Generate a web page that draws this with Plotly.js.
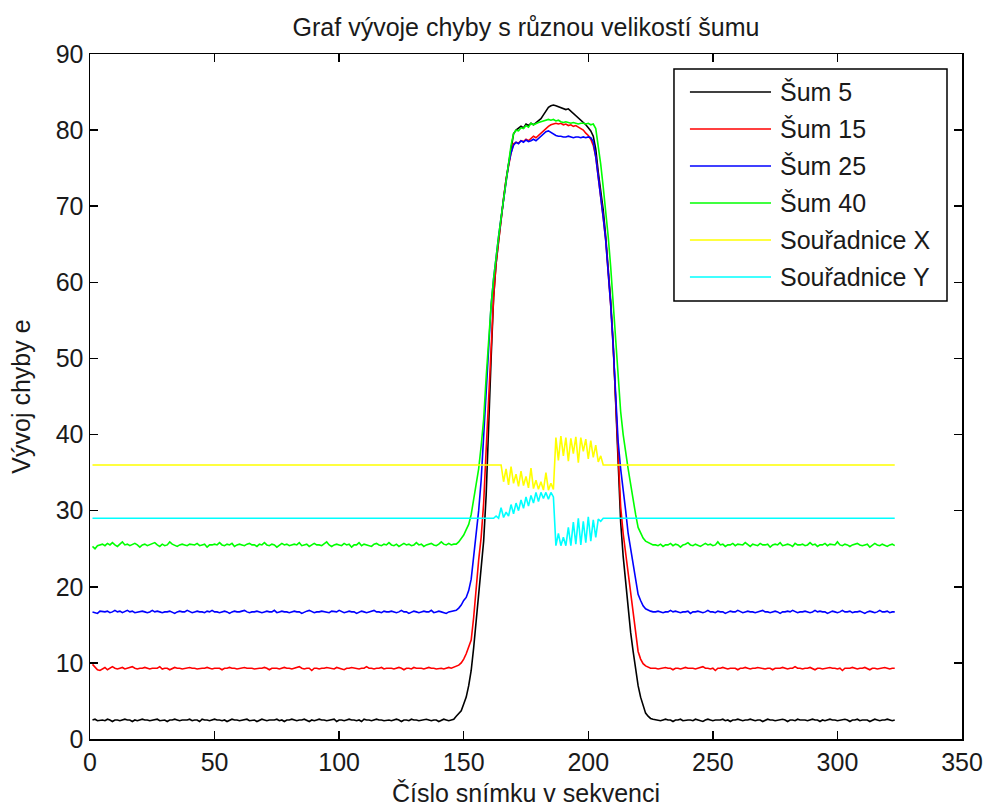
<!DOCTYPE html>
<html><head><meta charset="utf-8">
<script src="https://cdn.plot.ly/plotly-3.0.1.min.js"></script>
<style>html,body{margin:0;padding:0;background:#fff}#chart{width:983px;height:807px}</style>
</head><body><div id="chart"></div>
<script>
// ---------- data ----------
const seriesNames = ["Šum 5", "Šum 15", "Šum 25", "Šum 40", "Souřadnice X", "Souřadnice Y"];
const seriesColors = ["#000000", "#ff0000", "#0000ff", "#00ff00", "#ffff00", "#00ffff"];
const xTickVals = [0, 50, 100, 150, 200, 250, 300, 350];
const yTickVals = [0, 10, 20, 30, 40, 50, 60, 70, 80, 90];
const chartTitle = "Graf vývoje chyby s různou velikostí šumu";
const xLabel = "Číslo snímku v sekvenci";
const yLabel = "Vývoj chyby e";

// Šum 5 : frames 1-145, 146-226, 227-323
const sum5Left = [
2.5,2.6,2.4,2.5,2.5,2.4,2.6,2.5,2.3,2.5,2.5,2.4,2.5,2.6,2.5,2.5,2.3,2.5,2.4,2.5,
2.6,2.5,2.5,2.4,2.5,2.5,2.6,2.4,2.5,2.5,2.3,2.5,2.5,2.6,2.5,2.4,2.5,2.5,2.5,2.6,
2.4,2.5,2.5,2.3,2.6,2.5,2.5,2.4,2.5,2.6,2.5,2.5,2.4,2.5,2.3,2.5,2.6,2.5,2.5,2.4,
2.5,2.5,2.6,2.4,2.5,2.5,2.3,2.5,2.6,2.5,2.4,2.5,2.5,2.5,2.6,2.4,2.5,2.3,2.5,2.5,
2.6,2.5,2.4,2.5,2.5,2.6,2.5,2.3,2.5,2.4,2.5,2.6,2.5,2.5,2.4,2.5,2.5,2.6,2.3,2.5,
2.5,2.4,2.5,2.6,2.5,2.5,2.4,2.5,2.3,2.6,2.5,2.5,2.4,2.5,2.6,2.5,2.5,2.4,2.5,2.5,
2.4,2.5,2.6,2.5,2.3,2.5,2.5,2.4,2.6,2.5,2.5,2.4,2.5,2.5,2.6,2.5,2.4,2.5,2.5,2.3,
2.5,2.6,2.5,2.4,2.5];
const sum5Peak = [
2.6,3.0,3.3,3.7,4.6,5.5,7.0,9.0,12.0,15.5,
19.5,22.5,26.0,32.0,42.0,50.0,58.0,62.5,65.5,68.5,
71.0,73.5,75.5,77.5,79.5,80.0,80.2,80.5,80.3,80.8,
80.6,80.9,80.7,81.0,81.2,81.5,82.0,82.6,83.0,83.2,
83.3,83.2,83.1,83.0,82.9,82.7,82.8,82.5,82.3,82.0,
81.7,81.4,81.0,80.7,80.3,79.9,79.2,77.5,74.5,72.0,
69.5,66.0,62.0,57.5,52.0,44.0,35.0,28.5,24.0,20.5,
17.0,14.0,11.5,9.0,7.0,5.5,4.3,3.4,3.0,2.7,
2.6];
const sum5Right = [
2.5,2.5,2.4,2.5,2.6,2.5,2.5,2.3,2.5,2.5,2.6,2.4,2.5,2.5,2.5,2.4,2.6,2.5,2.5,2.3,
2.5,2.6,2.5,2.4,2.5,2.5,2.5,2.6,2.4,2.5,2.3,2.5,2.5,2.6,2.5,2.4,2.5,2.5,2.6,2.5,
2.4,2.5,2.5,2.3,2.5,2.6,2.5,2.5,2.4,2.5,2.5,2.6,2.5,2.3,2.5,2.5,2.4,2.6,2.5,2.5,
2.5,2.4,2.5,2.6,2.5,2.5,2.3,2.5,2.4,2.5,2.6,2.5,2.5,2.4,2.5,2.5,2.6,2.5,2.3,2.5,
2.5,2.6,2.4,2.5,2.5,2.5,2.3,2.5,2.6,2.5,2.4,2.5,2.5,2.6,2.5,2.4,2.5];

// Šum 15
const sum15Left = [
9.8,9.5,9.1,9.0,9.2,9.4,9.1,9.3,9.5,9.3,9.2,9.3,9.4,9.2,9.3,9.3,9.5,9.3,9.2,9.3,
9.3,9.4,9.3,9.2,9.3,9.3,9.3,9.5,9.2,9.3,9.3,9.1,9.3,9.4,9.3,9.3,9.2,9.3,9.3,9.4,
9.3,9.3,9.2,9.3,9.3,9.3,9.4,9.3,9.2,9.3,9.3,9.3,9.1,9.3,9.3,9.4,9.3,9.3,9.2,9.3,
9.3,9.4,9.3,9.3,9.3,9.2,9.3,9.3,9.3,9.4,9.3,9.1,9.3,9.3,9.3,9.2,9.3,9.4,9.3,9.3,
9.2,9.3,9.3,9.5,9.3,9.2,9.3,9.3,9.0,9.3,9.3,9.2,9.3,9.3,9.4,9.3,9.3,9.2,9.4,9.3,
9.3,9.1,9.3,9.3,9.4,9.3,9.3,9.2,9.3,9.3,9.5,9.3,9.3,9.2,9.3,9.3,9.4,9.2,9.3,9.3,
9.3,9.2,9.3,9.4,9.3,9.1,9.3,9.3,9.2,9.4,9.3,9.3,9.3,9.2,9.3,9.4,9.3,9.3,9.2,9.3,
9.3,9.2,9.3,9.4,9.3];
const sum15Peak = [
9.4,9.5,9.7,10.0,10.5,11.2,12.0,13.0,16.0,20.0,
23.5,26.5,31.0,38.0,45.0,52.0,58.0,62.5,65.5,68.5,
71.0,73.5,75.5,77.0,78.2,78.4,78.3,78.6,78.5,78.8,
78.6,78.9,79.2,79.0,79.3,79.6,80.0,80.3,80.5,80.7,
80.8,80.9,80.8,80.9,80.7,80.8,80.6,80.7,80.5,80.6,
80.4,80.2,80.0,79.6,79.3,78.8,78.0,76.5,74.0,71.5,
68.5,65.5,61.5,57.0,51.5,44.0,37.0,30.5,27.0,24.5,
22.0,19.5,16.5,13.8,11.5,10.5,9.9,9.6,9.4,9.3,
9.3];
const sum15Right = [
9.3,9.2,9.3,9.3,9.4,9.3,9.3,9.1,9.3,9.3,9.2,9.3,9.4,9.3,9.3,9.3,9.2,9.3,9.3,9.5,
9.3,9.3,9.2,9.3,9.0,9.3,9.3,9.4,9.3,9.2,9.3,9.3,9.3,9.1,9.3,9.3,9.4,9.3,9.2,9.3,
9.3,9.4,9.3,9.3,9.2,9.3,9.3,9.1,9.3,9.3,9.3,9.4,9.3,9.2,9.3,9.3,9.5,9.3,9.3,9.2,
9.3,9.3,9.4,9.3,9.1,9.3,9.3,9.2,9.3,9.3,9.4,9.3,9.3,9.2,9.3,9.0,9.3,9.3,9.3,9.4,
9.3,9.2,9.3,9.3,9.4,9.3,9.1,9.3,9.3,9.2,9.3,9.3,9.4,9.3,9.2,9.3,9.3];

// Šum 25
const sum25Left = [
16.7,16.6,16.5,16.8,16.7,16.7,16.8,16.6,16.7,16.9,16.7,16.8,16.6,16.7,16.9,16.7,16.8,16.6,16.7,16.7,
16.8,16.7,16.6,16.7,16.9,16.7,16.8,16.7,16.6,16.7,16.7,16.8,16.7,16.5,16.7,16.8,16.7,16.7,16.9,16.7,
16.6,16.7,16.8,16.7,16.7,16.6,16.8,16.7,16.9,16.7,16.7,16.6,16.7,16.8,16.7,16.5,16.7,16.8,16.7,16.7,
16.8,16.9,16.7,16.6,16.7,16.7,16.8,16.7,16.6,16.7,16.8,16.7,16.7,16.9,16.6,16.7,16.8,16.7,16.7,16.6,
16.7,16.8,16.7,16.7,16.5,16.7,16.8,16.9,16.7,16.6,16.7,16.7,16.8,16.7,16.7,16.6,16.8,16.7,16.7,16.9,
16.7,16.6,16.7,16.8,16.7,16.7,16.5,16.7,16.8,16.7,16.6,16.7,16.8,16.9,16.7,16.7,16.6,16.8,16.7,16.7,
16.8,16.7,16.6,16.7,16.9,16.7,16.7,16.5,16.7,16.8,16.7,16.6,16.7,16.8,16.7,16.7,16.9,16.6,16.7,16.8,
16.7,16.6,16.5,16.7,16.8];
const sum25Peak = [
16.8,16.9,17.2,17.6,18.2,18.6,19.5,21.0,24.0,27.0,
30.0,34.0,40.0,46.0,52.0,57.0,60.5,63.5,66.0,68.5,
71.0,73.5,75.5,77.0,78.0,78.4,78.2,78.6,78.4,78.7,
78.5,78.6,78.8,78.6,78.9,79.2,79.6,79.8,79.9,79.7,
79.4,79.3,79.2,79.2,79.1,79.1,79.2,79.1,79.0,79.1,
79.1,79.0,79.1,79.0,79.1,79.0,78.5,76.5,74.0,71.5,
68.5,65.5,61.5,57.0,51.5,45.0,39.0,35.5,33.0,30.0,
27.0,25.0,22.5,20.5,19.0,18.2,17.5,17.1,16.9,16.8,
16.7];
const sum25Right = [
16.7,16.8,16.7,16.6,16.7,16.7,16.9,16.7,16.8,16.7,16.6,16.7,16.7,16.8,16.5,16.7,16.7,16.8,16.7,16.6,
16.7,16.9,16.7,16.7,16.6,16.8,16.7,16.7,16.5,16.7,16.8,16.7,16.7,16.9,16.7,16.6,16.7,16.8,16.7,16.7,
16.6,16.7,16.8,16.9,16.7,16.7,16.6,16.7,16.8,16.7,16.5,16.7,16.7,16.8,16.7,16.9,16.7,16.6,16.7,16.7,
16.8,16.7,16.6,16.7,16.9,16.7,16.8,16.7,16.7,16.5,16.7,16.8,16.7,16.6,16.7,16.9,16.7,16.7,16.8,16.6,
16.7,16.7,16.8,16.7,16.5,16.7,16.8,16.7,16.6,16.7,16.9,16.7,16.7,16.8,16.6,16.7,16.7];

// Šum 40
const sum40Left = [
25.3,25.0,25.4,25.5,25.6,25.4,25.7,25.5,25.8,25.5,25.3,25.6,25.9,25.5,25.6,25.4,25.5,25.7,25.5,25.2,
25.5,25.6,25.4,25.5,25.7,25.8,25.5,25.3,25.6,25.4,25.5,25.9,25.6,25.5,25.3,25.5,25.6,25.5,25.4,25.6,
25.5,25.5,25.7,25.4,25.5,25.6,25.2,25.5,25.5,25.6,25.5,25.8,25.5,25.4,25.6,25.5,25.7,25.3,25.5,25.6,
25.5,25.4,25.6,25.7,25.5,25.5,25.3,25.6,25.5,25.8,25.5,25.4,25.6,25.5,25.2,25.5,25.7,25.5,25.6,25.4,
25.5,25.6,25.5,25.8,25.4,25.5,25.6,25.3,25.5,25.7,25.5,25.5,25.4,25.6,25.9,25.5,25.3,25.5,25.6,25.5,
25.4,25.7,25.5,25.6,25.2,25.5,25.5,25.8,25.4,25.6,25.5,25.5,25.3,25.6,25.7,25.5,25.4,25.6,25.5,25.8,
25.5,25.4,25.6,25.3,25.5,25.7,25.5,25.6,25.4,25.5,25.8,25.5,25.6,25.3,25.5,25.6,25.7,25.5,25.4,25.6,
25.9,25.6,25.5,25.7,25.5];
const sum40Peak = [
25.6,25.6,25.9,26.3,26.8,27.5,28.2,29.5,31.5,33.5,
35.5,38.5,42.0,47.5,52.5,57.0,60.5,63.5,66.0,68.5,
71.0,73.5,76.0,78.0,79.5,80.0,79.9,80.3,80.2,80.6,
80.4,80.9,80.7,80.9,81.0,81.1,81.2,81.3,81.4,81.3,
81.4,81.2,81.3,81.1,81.0,81.1,81.0,80.9,81.0,80.9,
80.8,80.9,80.9,80.8,80.9,80.7,80.8,80.2,78.0,75.5,
72.5,69.5,66.0,62.0,57.5,52.5,47.5,43.0,40.0,37.5,
35.5,33.5,31.3,29.5,27.8,27.0,26.4,26.0,25.8,25.6,
25.5];
const sum40Right = [
25.5,25.4,25.6,25.3,25.5,25.5,25.7,25.4,25.6,25.5,25.2,25.5,25.6,25.8,25.5,25.4,25.6,25.5,25.3,25.5,
25.7,25.5,25.6,25.4,25.5,25.9,25.5,25.6,25.3,25.5,25.5,25.7,25.4,25.6,25.5,25.5,25.8,25.5,25.3,25.6,
25.5,25.4,25.7,25.5,25.5,25.6,25.2,25.5,25.6,25.5,25.8,25.4,25.5,25.6,25.5,25.3,25.7,25.5,25.5,25.6,
25.4,25.5,25.8,25.5,25.6,25.3,25.5,25.5,25.7,25.4,25.6,25.5,25.5,25.9,25.5,25.4,25.6,25.5,25.3,25.5,
25.6,25.7,25.5,25.4,25.5,25.6,25.2,25.5,25.7,25.5,25.4,25.6,25.5,25.3,25.5,25.6,25.4];

// Souřadnice X : frames 1-162, 163-206, 207-323
const coordXLeft = [
36,36,36,36,36,36,36,36,36,36,36,36,36,36,36,36,36,36,36,36,
36,36,36,36,36,36,36,36,36,36,36,36,36,36,36,36,36,36,36,36,
36,36,36,36,36,36,36,36,36,36,36,36,36,36,36,36,36,36,36,36,
36,36,36,36,36,36,36,36,36,36,36,36,36,36,36,36,36,36,36,36,
36,36,36,36,36,36,36,36,36,36,36,36,36,36,36,36,36,36,36,36,
36,36,36,36,36,36,36,36,36,36,36,36,36,36,36,36,36,36,36,36,
36,36,36,36,36,36,36,36,36,36,36,36,36,36,36,36,36,36,36,36,
36,36,36,36,36,36,36,36,36,36,36,36,36,36,36,36,36,36,36,36,
36,36];
const coordXMid = [
36,36,36,33.8,35.5,33.4,35.8,33.6,34.8,33.2,
35.2,33.3,34.5,33.0,35.6,32.9,34.0,32.8,33.8,32.7,
35.0,32.7,33.6,32.8,39.6,36.6,39.8,37.2,39.6,36.5,
39.5,37.5,39.7,36.3,39.6,37.8,39.4,36.8,39.2,37.0,
38.6,36.4,37.2,36.0];
const coordXRight = [
36,36,36,36,36,36,36,36,36,36,36,36,36,36,36,36,36,36,36,36,
36,36,36,36,36,36,36,36,36,36,36,36,36,36,36,36,36,36,36,36,
36,36,36,36,36,36,36,36,36,36,36,36,36,36,36,36,36,36,36,36,
36,36,36,36,36,36,36,36,36,36,36,36,36,36,36,36,36,36,36,36,
36,36,36,36,36,36,36,36,36,36,36,36,36,36,36,36,36,36,36,36,
36,36,36,36,36,36,36,36,36,36,36,36,36,36,36,36,36];

// Souřadnice Y
const coordYLeft = [
29,29,29,29,29,29,29,29,29,29,29,29,29,29,29,29,29,29,29,29,
29,29,29,29,29,29,29,29,29,29,29,29,29,29,29,29,29,29,29,29,
29,29,29,29,29,29,29,29,29,29,29,29,29,29,29,29,29,29,29,29,
29,29,29,29,29,29,29,29,29,29,29,29,29,29,29,29,29,29,29,29,
29,29,29,29,29,29,29,29,29,29,29,29,29,29,29,29,29,29,29,29,
29,29,29,29,29,29,29,29,29,29,29,29,29,29,29,29,29,29,29,29,
29,29,29,29,29,29,29,29,29,29,29,29,29,29,29,29,29,29,29,29,
29,29,29,29,29,29,29,29,29,29,29,29,29,29,29,29,29,29,29,29,
29,29];
const coordYMid = [
29.3,29.0,30.4,29.1,29.8,29.3,30.8,29.6,31.0,30.0,
31.4,30.3,31.8,30.6,32.0,31.0,32.4,31.2,32.4,31.6,
32.4,31.5,32.4,31.8,25.4,27.0,25.4,26.5,25.4,27.8,
25.4,28.5,25.6,29.0,25.5,28.6,25.8,29.2,26.0,28.8,
26.5,28.9,28.6,29.0];
const coordYRight = [
29,29,29,29,29,29,29,29,29,29,29,29,29,29,29,29,29,29,29,29,
29,29,29,29,29,29,29,29,29,29,29,29,29,29,29,29,29,29,29,29,
29,29,29,29,29,29,29,29,29,29,29,29,29,29,29,29,29,29,29,29,
29,29,29,29,29,29,29,29,29,29,29,29,29,29,29,29,29,29,29,29,
29,29,29,29,29,29,29,29,29,29,29,29,29,29,29,29,29,29,29,29,
29,29,29,29,29,29,29,29,29,29,29,29,29,29,29,29,29];

const sum5 = sum5Left.concat(sum5Peak, sum5Right);
const sum15 = sum15Left.concat(sum15Peak, sum15Right);
const sum25 = sum25Left.concat(sum25Peak, sum25Right);
const sum40 = sum40Left.concat(sum40Peak, sum40Right);
const coordX = coordXLeft.concat(coordXMid, coordXRight);
const coordY = coordYLeft.concat(coordYMid, coordYRight);
const allSeries = [sum5, sum15, sum25, sum40, coordX, coordY];

// ---------- chart ----------
const FONT = "Liberation Sans, Arial, sans-serif";
const FS = 25;
const TXT = "#1a1a1a";

const traces = allSeries.map((ys, k) => ({
  type: "scatter", mode: "lines",
  x: ys.map((_, i) => i + 1), y: ys,
  name: seriesNames[k],
  line: {color: seriesColors[k], width: 1.6},
  hoverinfo: "skip"
}));

// custom MATLAB-like legend (paper coords)
const legBox = {x0: 0.6697, x1: 0.9828, y0: 0.6394, y1: 0.978};
const legTop = 0.9445, legStep = 0.054;
const shapes = [{type: "rect", xref: "paper", yref: "paper",
  x0: legBox.x0, x1: legBox.x1, y0: legBox.y0, y1: legBox.y1,
  line: {color: "#000", width: 1.5}, fillcolor: "#fff", layer: "above"}];
const annotations = [];
seriesNames.forEach((nm, k) => {
  const yy = legTop - k * legStep;
  shapes.push({type: "line", xref: "paper", yref: "paper",
    x0: 0.688, x1: 0.781, y0: yy, y1: yy,
    line: {color: seriesColors[k], width: 1.6}, layer: "above"});
  annotations.push({xref: "paper", yref: "paper", x: 0.789, y: yy,
    xanchor: "left", yanchor: "middle", showarrow: false, text: nm,
    font: {family: FONT, size: FS, color: TXT}});
});

const axisCommon = {
  showline: true, linecolor: "#000", linewidth: 1.5, mirror: "allticks",
  ticks: "inside", ticklen: 8, tickwidth: 1.5, tickcolor: "#000",
  showgrid: false, zeroline: false,
  tickfont: {family: FONT, size: FS, color: TXT}
};

const layout = {
  width: 983, height: 807,
  margin: {l: 90, r: 21, t: 54, b: 68},
  paper_bgcolor: "#fff", plot_bgcolor: "#fff",
  showlegend: false,
  title: {text: chartTitle, font: {family: FONT, size: FS, color: TXT},
    x: 0.5, xref: "paper", y: 1 - 27 / 807, yref: "container", yanchor: "middle"},
  xaxis: Object.assign({}, axisCommon, {range: [0, 350], tickvals: xTickVals,
    title: {text: xLabel, font: {family: FONT, size: FS, color: TXT}}}),
  yaxis: Object.assign({}, axisCommon, {range: [0, 90], tickvals: yTickVals,
    title: {text: yLabel, font: {family: FONT, size: FS, color: TXT}}}),
  shapes: shapes, annotations: annotations
};

Plotly.newPlot("chart", traces, layout, {staticPlot: true, displayModeBar: false});
</script></body></html>
